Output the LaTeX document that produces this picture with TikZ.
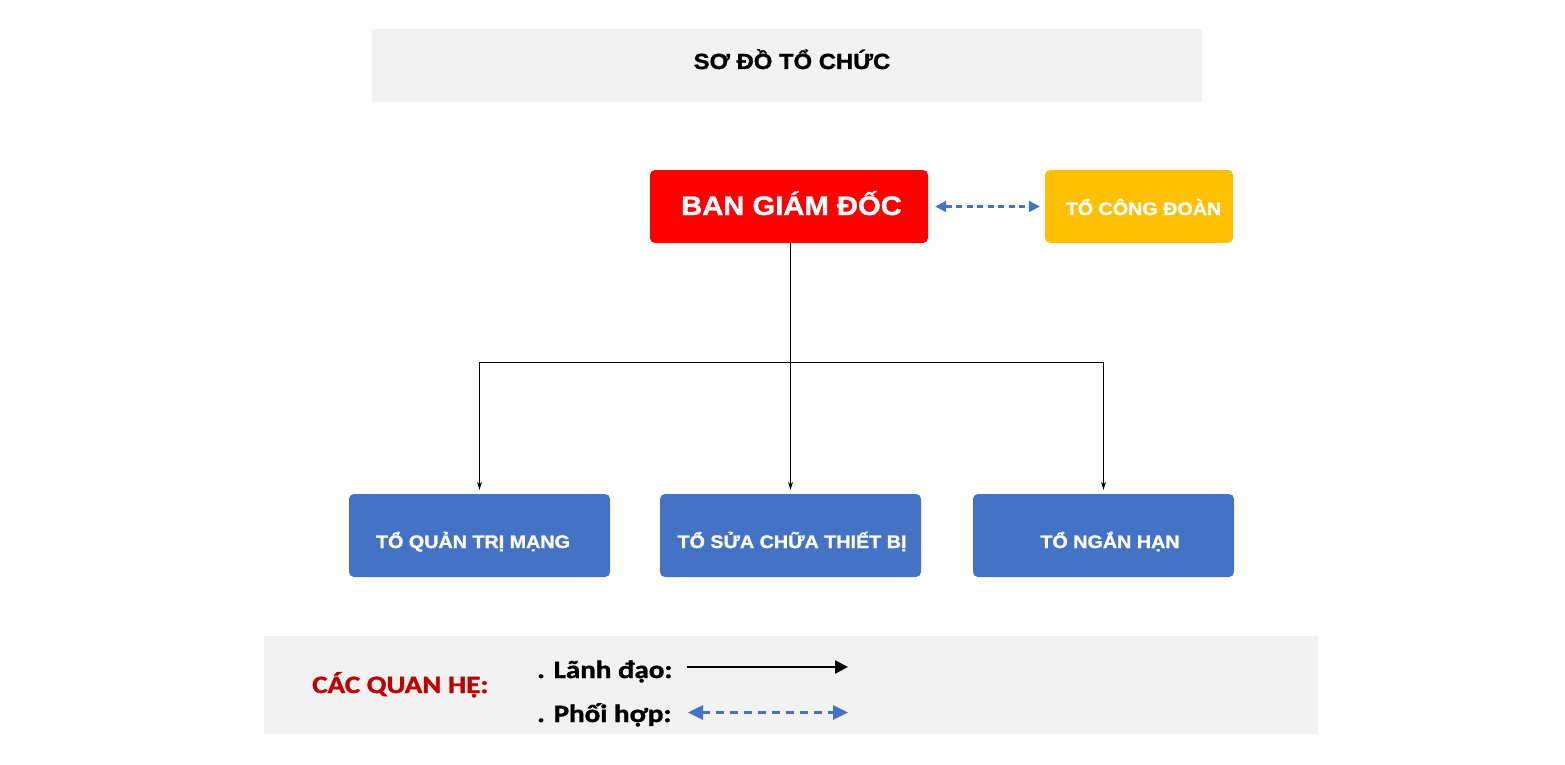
\documentclass[tikz,border=0pt]{standalone}
\usepackage{fontspec}
\usepackage{graphicx}
\setmainfont{Liberation Sans}[BoldFeatures={FakeBold=1.2}]
\newfontfamily\calib{Carlito}[BoldFeatures={FakeBold=1.2}]
\usetikzlibrary{arrows.meta}
\definecolor{bgray}{HTML}{F2F2F2}
\definecolor{bred}{HTML}{FF0000}
\definecolor{byellow}{HTML}{FFC000}
\definecolor{bblue}{HTML}{4472C4}
\definecolor{lred}{HTML}{C00000}
\newcommand{\wide}[1]{\scalebox{1.09}[1]{#1}}
\newcommand{\lwide}[1]{\scalebox{1.16}[1]{#1}}
\tikzset{
  panel/.style={fill=bgray, draw=none, inner sep=0pt},
  box/.style={rounded corners=5pt, draw=none, inner sep=0pt},
  txt/.style={anchor=base, inner sep=0pt, font=\bfseries},
  ltxt/.style={anchor=base west, inner sep=0pt, font=\calib\fontsize{25}{28}\selectfont\bfseries},
  lead/.style={draw=black, line width=0.9pt, -{Stealth[length=8pt,width=5pt]}, shorten >=4pt},
  coop/.style={draw=bblue, line width=2.2pt, dash pattern=on 6pt off 4.5pt, {Triangle[length=11pt,width=11pt]}-{Triangle[length=11pt,width=11pt]}},
}
\begin{document}
\begin{tikzpicture}[x=1pt,y=-1pt]
\useasboundingbox (0,0) rectangle (1565,765);
\fill[white] (0,0) rectangle (1565,765);
% title panel
\node[panel, minimum width=830pt, minimum height=73pt] (title) at (787,65.5) {};
\node[txt, font=\fontsize{21.9}{24}\selectfont\bfseries] (titletxt) at (792,69) {\wide{SƠ ĐỒ TỔ CHỨC}};
% top boxes
\node[box, fill=bred, minimum width=278pt, minimum height=73pt] (bgd) at (789,206.5) {};
\node[txt, text=white, font=\fontsize{26.8}{30}\selectfont\bfseries] (bgdtxt) at (791.5,215) {\wide{BAN GIÁM ĐỐC}};
\node[box, fill=byellow, minimum width=188pt, minimum height=73pt] (cd) at (1139,206.5) {};
\node[txt, text=white, font=\fontsize{18.1}{21}\selectfont\bfseries] (cdtxt) at (1143.5,215) {\wide{TỔ CÔNG ĐOÀN}};
% bottom boxes
\node[box, fill=bblue, minimum width=261pt, minimum height=83pt] (b1) at (479.5,535.5) {};
\node[box, fill=bblue, minimum width=261pt, minimum height=83pt] (b2) at (790.5,535.5) {};
\node[box, fill=bblue, minimum width=261pt, minimum height=83pt] (b3) at (1103.5,535.5) {};
\node[txt, text=white, font=\fontsize{18.1}{21}\selectfont\bfseries] (b1txt) at (473,548) {\wide{TỔ QUẢN TRỊ MẠNG}};
\node[txt, text=white, font=\fontsize{18.1}{21}\selectfont\bfseries] (b2txt) at (792,548) {\wide{TỔ SỬA CHỮA THIẾT BỊ}};
\node[txt, text=white, font=\fontsize{18.1}{21}\selectfont\bfseries] (b3txt) at (1110,548) {\wide{TỔ NGẮN HẠN}};
% connectors
\coordinate (j) at (790.5,362);
\draw[line width=0.9pt] (bgd.south -| j) -- (j);
\draw[lead] (j) -| (b1.north);
\draw[lead] (j) -- (b2.north);
\draw[lead] (j) -| (b3.north);
\draw[coop, shorten <=7pt, shorten >=5pt] (bgd.east) -- (cd.west);
% legend
\node[panel, minimum width=1054pt, minimum height=98pt] (legend) at (791,685) {};
\node[ltxt, text=lred] (lgtitle) at (312,693) {\lwide{CÁC QUAN HỆ:}};
\node[ltxt] (lg1) at (537,678) {\lwide{. Lãnh đạo:}};
\node[ltxt] (lg2) at (537,722) {\lwide{. Phối hợp:}};
\coordinate (a1s) at (687,667);
\coordinate (a1e) at (848,667);
\coordinate (a2s) at (688,712.5);
\coordinate (a2e) at (848,712.5);
\draw[line width=2.4pt, -{Triangle[length=13pt,width=13pt]}] (a1s) -- (a1e);
\draw[draw=bblue, line width=2.6pt, dash pattern=on 8pt off 6pt, {Triangle[length=15pt,width=14pt]}-{Triangle[length=15pt,width=14pt]}] (a2s) -- (a2e);
\end{tikzpicture}
\end{document}
